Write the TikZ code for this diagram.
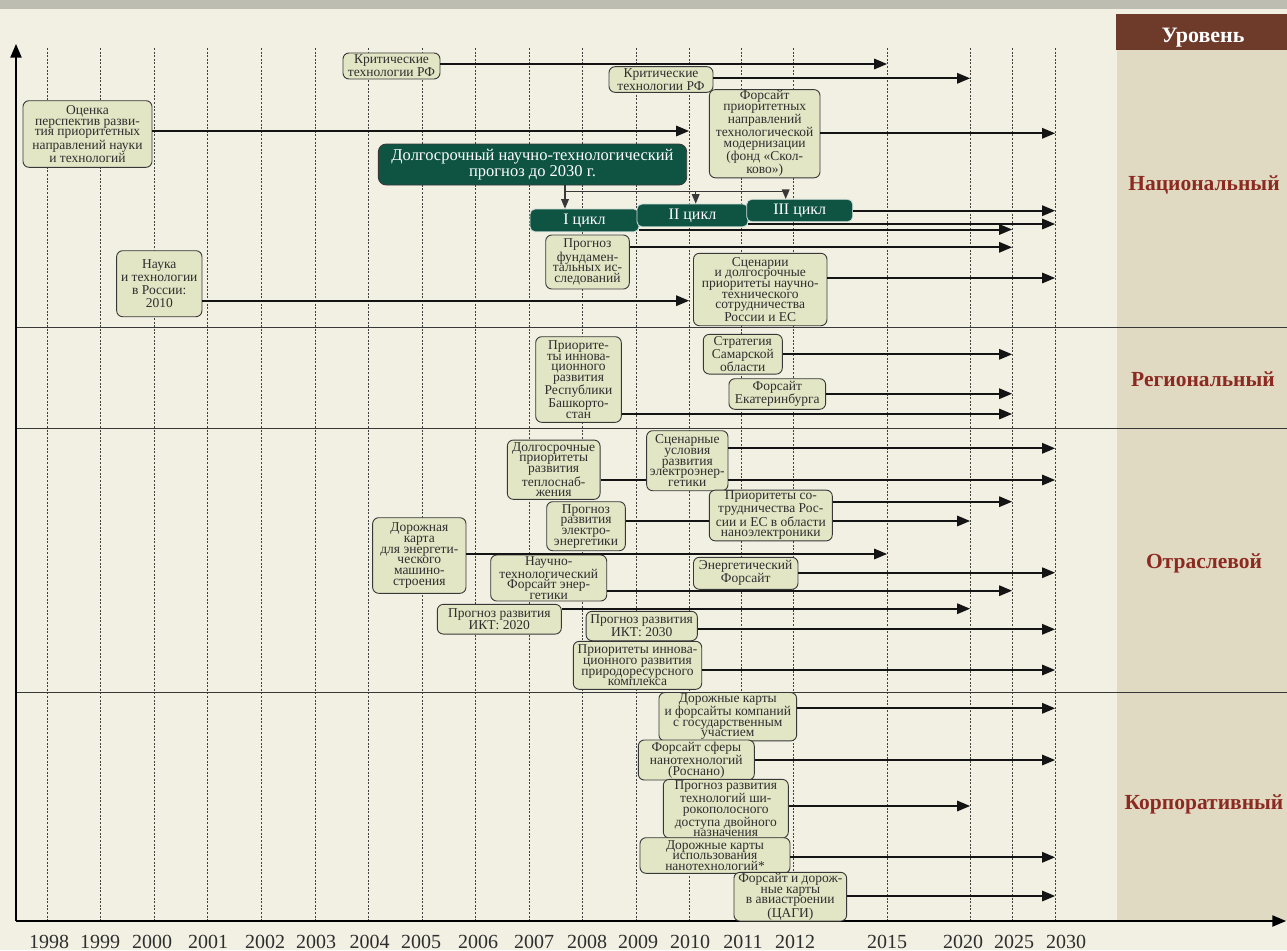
\documentclass[tikz,border=0pt]{standalone}
\usepackage{fontspec}
\setmainfont{Liberation Serif}
\usepackage{tikz}
\usetikzlibrary{arrows}

\definecolor{fondo}{HTML}{F2EFE3}
\definecolor{fascia}{HTML}{BEBDB2}
\definecolor{colonna}{HTML}{E0DAC2}
\definecolor{intesta}{HTML}{6E3A2A}
\definecolor{rosso}{HTML}{8C2A22}
\definecolor{scatola}{HTML}{E3E6C5}
\definecolor{bordo}{HTML}{383838}
\definecolor{testo}{HTML}{2E2E2E}
\definecolor{verde}{HTML}{0F5443}

\begin{document}
\begin{tikzpicture}[x=1pt,y=-1pt,>=triangle 45,
    box/.style={draw=bordo, line width=0.9pt, fill=scatola, rounded corners=6pt, align=center,
      inner sep=1pt, text=testo, font=\fontsize{13.5}{10.7}\selectfont},
    dim/.style 2 args={minimum width=#1pt, minimum height=#2pt},
    prognoz/.style={draw=bordo, line width=0.9pt, fill=verde, rounded corners=8pt, align=center,
      inner sep=1pt, text=white, font=\fontsize{16.5}{16}\selectfont},
    ciclo/.style={draw=white!80!verde, line width=0.8pt, fill=verde, rounded corners=5pt,
      inner sep=1pt, text=white, font=\fontsize{16}{16}\selectfont},
    freccia/.style={->, line width=2pt, draw=black!92},
    legame/.style={line width=2pt, draw=black!92},
    ramo/.style={line width=1.2pt, draw=bordo},
    griglia/.style={line width=0.7pt, draw=black!75, dash pattern=on 2pt off 1.6pt},
    separa/.style={line width=1.1pt, draw=bordo},
    asse/.style={->, line width=2.2pt, draw=black},
    livello/.style={anchor=base, text=rosso, font=\fontsize{21.5}{22}\selectfont\bfseries},
    anno/.style={anchor=base, text=testo, font=\fontsize{20}{20}\selectfont}]

  \useasboundingbox (0,0) rectangle (1287,950);
  \fill[fondo] (0,0) rectangle (1287,950);
  \fill[fascia] (0,0) rectangle (1287,9.5);
  \fill[colonna] (1117,50) rectangle (1287,921);
  \fill[intesta] (1116,14) rectangle (1287,50);
  \node[anchor=base, text=white, font=\fontsize{22}{22}\selectfont\bfseries] (uroven) at (1203,42.7) {Уровень};

  \foreach \yr/\gx/\lx in {1998/47/49, 1999/100.7/100, 2000/154/152, 2001/207.7/208, 2002/261.3/265,
      2003/315/316, 2004/368.3/369.5, 2005/422.3/421, 2006/475.7/478, 2007/529.3/534, 2008/582.7/587,
      2009/636.7/638, 2010/689/690, 2011/741/743, 2012/793/795, 2015/887/887, 2020/970/963,
      2025/1012/1014, 2030/1055/1066}
  {
    \draw[griglia] (\gx,48) -- (\gx,921);
    \coordinate (t\yr) at (\gx,0);
    \node[anno] (anno\yr) at (\lx,948) {\yr};
  }

  \draw[separa] (16,327.3) -- (1287,327.3);
  \draw[separa] (16,428.3) -- (1287,428.3);
  \draw[separa] (16,692.7) -- (1287,692.7);

  \coordinate (origine) at (16,921);
  \draw[asse] (origine) -- (16,44);
  \draw[asse] (origine) -- (1286,921);

  \node[box, dim={97}{26}] (kritich1) at (391.5,66) {Критические\\технологии РФ};
  \node[box, dim={104}{25.6}] (kritich2) at (661,79.5) {Критические\\технологии РФ};
  \node[box, dim={129}{66.6}] (ocenka) at (87.5,134) {Оценка\\перспектив разви-\\тия приоритетных\\направлений науки\\и технологий};
  \node[box, dim={110.6}{82}] (skolkovo) at (764.7,133.7) {Форсайт\\приоритетных\\направлений\\технологической\\модернизации\\(фонд «Скол-\\ково»)};
  \node[prognoz, dim={308.4}{41}] (dolgosr) at (532.5,164.5) {Долгосрочный научно-технологический\\прогноз до 2030 г.};
  \node[ciclo, dim={109}{22.7}] (ciclo1) at (584.5,220.4) {I цикл};
  \node[ciclo, dim={111}{22.7}] (ciclo2) at (692.5,215.4) {II цикл};
  \node[ciclo, dim={106}{22.4}] (ciclo3) at (799.7,210.5) {III цикл};
  \node[box, dim={83.6}{54}] (fundam) at (587.5,262) {Прогноз\\фундамен-\\тальных ис-\\следований};
  \node[box, dim={85.3}{66}, font=\fontsize{13.5}{13}\selectfont] (nauka) at (159.3,283.7) {Наука\\и технологии\\в России:\\2010};
  \node[box, dim={133.5}{72.4}] (scenarii) at (760.2,289.5) {Сценарии\\и долгосрочные\\приоритеты научно-\\технического\\сотрудничества\\России и ЕС};

  \node[box, dim={85.6}{85.6}] (bashkir) at (578.5,379.5) {Приорите-\\ты иннова-\\ционного\\развития\\Республики\\Башкорто-\\стан};
  \node[box, dim={79}{39.7}] (samara) at (742.8,354.2) {Стратегия\\Самарской\\области};
  \node[box, dim={96.7}{30.6}] (ekb) at (777.3,394) {Форсайт\\Екатеринбурга};

  \node[box, dim={92.7}{59.3}] (teplo) at (553.7,469.7) {Долгосрочные\\приоритеты\\развития\\теплоснаб-\\жения};
  \node[box, dim={81.3}{60}] (scenel) at (687.3,460.7) {Сценарные\\условия\\развития\\электроэнер-\\гетики};
  \node[box, dim={78.6}{49}] (elprog) at (586,526.2) {Прогноз\\развития\\электро-\\энергетики};
  \node[box, dim={123}{47.6}] (nanoel) at (770.8,515.5) {Приоритеты со-\\трудничества Рос-\\сии и ЕС в области\\наноэлектроники};
  \node[box, dim={93.3}{75.6}] (mashin) at (419.3,555.5) {Дорожная\\карта\\для энергети-\\ческого\\машино-\\строения};
  \node[box, dim={116}{46}] (nauchfor) at (548.7,578) {Научно-\\технологический\\Форсайт энер-\\гетики};
  \node[box, dim={104.5}{32}, font=\fontsize{13.5}{13}\selectfont] (energ) at (745.7,573.3) {Энергетический\\Форсайт};
  \node[box, dim={124}{29.7}] (ikt20) at (499.3,619.2) {Прогноз развития\\ИКТ: 2020};
  \node[box, dim={111.3}{29.4}] (ikt30) at (641.7,626) {Прогноз развития\\ИКТ: 2030};
  \node[box, dim={128.4}{48}] (prirod) at (637.5,665.3) {Приоритеты иннова-\\ционного развития\\природоресурсного\\комплекса};

  \node[box, dim={137.7}{46.7}] (kompanii) at (727.8,716.7) {Дорожные карты\\и форсайты компаний\\с государственным\\участием};
  \node[box, dim={116}{40}] (rosnano) at (696.3,760) {Форсайт сферы\\нанотехнологий\\(Роснано)};
  \node[box, dim={125}{56}] (shirokop) at (725.8,808.7) {Прогноз развития\\технологий ши-\\рокополосного\\доступа двойного\\назначения};
  \node[box, dim={150}{35.6}] (nanoisp) at (715,855.5) {Дорожные карты\\использования\\нанотехнологий*};
  \node[box, dim={112.7}{48}] (cagi) at (790.3,896.7) {Форсайт и дорож-\\ные карты\\в авиастроении\\(ЦАГИ)};

  \coordinate (biforc) at (565,191.7);
  \coordinate (biforc2) at (695.7,191.7);
  \coordinate (biforc3) at (785.7,191.7);
  \draw[ramo,->] (biforc |- dolgosr.south) -- (biforc |- ciclo1.north);
  \draw[ramo] (biforc) -- (biforc3);
  \draw[ramo,->] (biforc2) -- (biforc2 |- ciclo2.north);
  \draw[ramo,->] (biforc3) -- (biforc3 |- ciclo3.north);

  \draw[legame] (teplo.east |- 0,480) -- (scenel.west |- 0,480);
  \draw[legame] (elprog.east |- 0,521) -- (nanoel.west |- 0,521);

  \foreach \from/\to/\yy in {kritich1/t2015/64, kritich2/t2020/78.3, ocenka/t2010/131, skolkovo/t2030/133.3,
      ciclo3/t2030/210.7, ciclo2/t2030/224, ciclo1/t2025/229.5, fundam/t2025/247.3, scenarii/t2030/278,
      nauka/t2010/300.7, samara/t2025/354.3, ekb/t2025/393.7, bashkir/t2025/414, scenel/t2030/448.3,
      scenel/t2030/480, nanoel/t2025/501.7, nanoel/t2020/521, mashin/t2015/554, energ/t2030/572.7,
      nauchfor/t2025/590.7, ikt20/t2020/608.7, ikt30/t2030/629.3, prirod/t2030/670,
      kompanii/t2030/708.3, rosnano/t2030/760, shirokop/t2020/806, nanoisp/t2030/857.3, cagi/t2030/896}
     \draw[freccia] (\from.east |- 0,\yy) -- (\to |- 0,\yy);

  \node[livello] (nazionale) at (1204,190.7) {Национальный};
  \node[livello] (regionale) at (1203,386) {Региональный};
  \node[livello] (settoriale) at (1204,568.3) {Отраслевой};
  \node[livello] (aziendale) at (1204,809.3) {Корпоративный};

\end{tikzpicture}
\end{document}
